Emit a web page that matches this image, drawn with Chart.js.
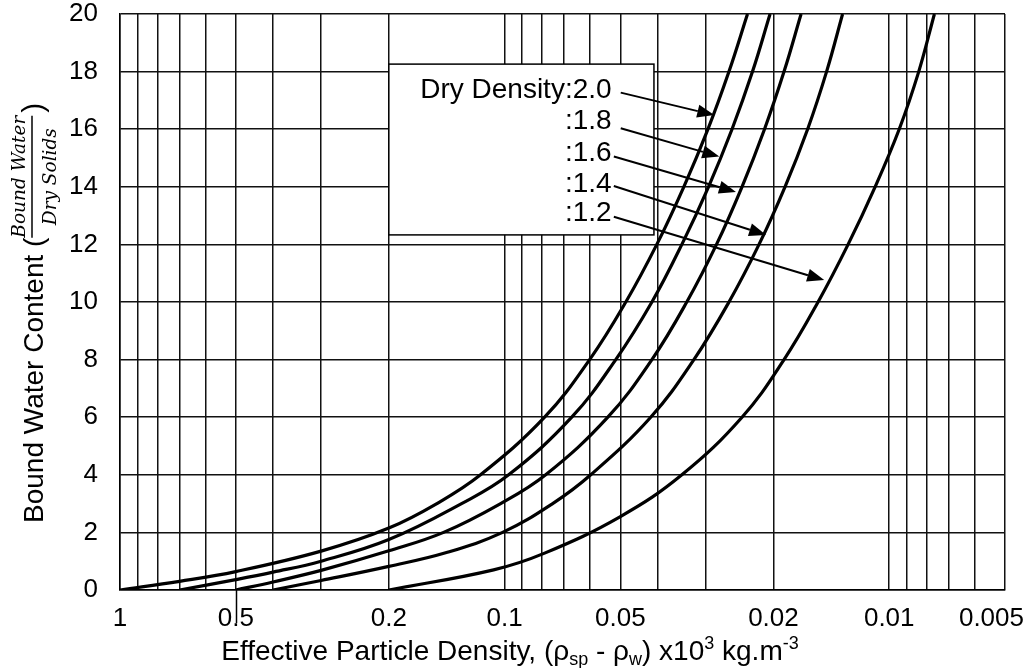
<!DOCTYPE html>
<html>
<head>
<meta charset="utf-8">
<script src="https://cdn.jsdelivr.net/npm/chart.js@4.4.1/dist/chart.umd.min.js"></script>
<style>
  html, body { margin: 0; padding: 0; background: #ffffff; }
</style>
</head>
<body>
<canvas id="chart" width="1032" height="668"></canvas>
<script>
// curves: [effective particle density, bound water content], one per dry density
const dryDensities = ['2.0', '1.8', '1.6', '1.4', '1.2'];
const curve20 = [[1,0],[0.7,0.30],[0.5,0.64],[0.3,1.35],[0.2,2.15],[0.15,3.0],[0.1155,4],[0.0787,6],[0.0601,8],[0.0484,10],[0.0402,12],[0.0342,14],[0.0296,16],[0.0261,18],[0.02336,20]];
const curve18 = [[0.7,0],[0.5,0.36],[0.4,0.62],[0.3,1.0],[0.2,1.75],[0.1294,3],[0.0976,4],[0.0669,6],[0.0514,8],[0.0414,10],[0.0346,12],[0.0295,14],[0.02563,16],[0.02267,18],[0.02041,20]];
const curve16 = [[0.5,0],[0.4,0.28],[0.3,0.68],[0.2,1.36],[0.1441,2],[0.1024,3],[0.0782,4],[0.0539,6],[0.0414,8],[0.0336,10],[0.02812,12],[0.02414,14],[0.0211,16],[0.01877,18],[0.01695,20]];
const curve14 = [[0.4,0],[0.3,0.33],[0.2,0.82],[0.1416,1.3],[0.1012,2],[0.075,3],[0.0597,4],[0.0417,6],[0.0322,8],[0.0261,10],[0.0218,12],[0.01866,14],[0.0163,16],[0.01455,18],[0.01322,20]];
const curve12 = [[0.2,0],[0.1068,0.7],[0.0787,1.28],[0.05,2.55],[0.0346,4],[0.02414,6],[0.01877,8],[0.01531,10],[0.01279,12],[0.01088,14],[0.00942,16],[0.00838,18],[0.00763,20]];
const curves = [curve20, curve18, curve16, curve14, curve12];

// axes
const xGrid = [1,0.9,0.8,0.7,0.6,0.5,0.4,0.3,0.2,0.1,0.09,0.08,0.07,0.06,0.05,0.04,0.03,0.02,0.01,0.009,0.008,0.007,0.006,0.005];
const xTickLabels = ['1','0.5','0.2','0.1','0.05','0.02','0.01','0.005'];
const yMin = 0, yMax = 20, yStep = 2;

// label box and arrows (data coordinates)
const boxCorners = { x1: 0.2, x2: 0.0409, y1: 18.26, y2: 12.33 };
const labelX = 0.0527;
const labelY = [17.36, 16.26, 15.17, 14.1, 13.09];
const arrowFrom = [[0.0499,17.27],[0.0499,16.03],[0.052,15.05],[0.052,14.03],[0.052,12.96]];
const arrowTo = [[0.0285,16.49],[0.02766,15.05],[0.02503,13.82],[0.0209,12.33],[0.01476,10.76]];

const FONT = '"Liberation Sans", Arial, sans-serif';
const INK = '#000000';

function drawRuns(ctx, runs, x, y) {
  for (const r of runs) {
    ctx.font = r.size + 'px ' + (r.family || FONT);
    ctx.fillText(r.text, x, y + (r.dy || 0));
    x += ctx.measureText(r.text).width;
  }
  return x;
}
function runsWidth(ctx, runs) {
  let w = 0;
  for (const r of runs) {
    ctx.font = r.size + 'px ' + (r.family || FONT);
    w += ctx.measureText(r.text).width;
  }
  return w;
}

const decorations = {
  id: 'decorations',
  afterDatasetsDraw(chart) {
    const { ctx, scales: { x, y } } = chart;
    ctx.save();
    // label box
    const bx1 = x.getPixelForValue(boxCorners.x1), bx2 = x.getPixelForValue(boxCorners.x2);
    const by1 = y.getPixelForValue(boxCorners.y1), by2 = y.getPixelForValue(boxCorners.y2);
    ctx.fillStyle = '#ffffff';
    ctx.fillRect(bx1, by1, bx2 - bx1, by2 - by1);
    ctx.strokeStyle = INK;
    ctx.lineWidth = 1.5;
    ctx.strokeRect(bx1, by1, bx2 - bx1, by2 - by1);

    ctx.fillStyle = INK;
    ctx.textAlign = 'right';
    ctx.textBaseline = 'middle';
    ctx.font = '28px ' + FONT;
    dryDensities.forEach((d, i) => {
      const txt = (i === 0 ? 'Dry Density:' : ':') + d;
      ctx.fillText(txt, x.getPixelForValue(labelX), y.getPixelForValue(labelY[i]));
    });

    // arrows
    ctx.lineWidth = 2;
    arrowFrom.forEach((p, i) => {
      const x0 = x.getPixelForValue(p[0]), y0 = y.getPixelForValue(p[1]);
      const x1 = x.getPixelForValue(arrowTo[i][0]), y1 = y.getPixelForValue(arrowTo[i][1]);
      const a = Math.atan2(y1 - y0, x1 - x0);
      const L = 17, W = 6.5;
      const bx = x1 - L * Math.cos(a), by = y1 - L * Math.sin(a);
      ctx.beginPath();
      ctx.moveTo(x0, y0);
      ctx.lineTo(bx, by);
      ctx.stroke();
      ctx.beginPath();
      ctx.moveTo(x1, y1);
      ctx.lineTo(bx + W * Math.sin(a), by - W * Math.cos(a));
      ctx.lineTo(bx - W * Math.sin(a), by + W * Math.cos(a));
      ctx.closePath();
      ctx.fill();
    });
    ctx.restore();
  },
  afterDraw(chart) {
    const { ctx, scales: { x }, chartArea } = chart;
    ctx.save();
    ctx.fillStyle = INK;
    ctx.strokeStyle = INK;

    // stray tick under 0.5
    const p5 = Math.round(x.getPixelForValue(0.5)) + 0.5;
    ctx.lineWidth = 1.5;
    ctx.beginPath();
    ctx.moveTo(p5, chartArea.bottom);
    ctx.lineTo(p5, chartArea.bottom + 33);
    ctx.stroke();

    // x tick labels
    ctx.font = '26px ' + FONT;
    ctx.textBaseline = 'alphabetic';
    ctx.textAlign = 'left';
    xTickLabels.forEach(t => {
      const w = ctx.measureText(t).width;
      let left = x.getPixelForValue(parseFloat(t)) - w / 2;
      left = Math.min(left, chart.width - 8 - w);
      ctx.fillText(t, left, 626);
    });

    // x axis title
    const xRuns = [
      { text: 'Effective Particle Density, (\u03c1', size: 28 },
      { text: 'sp', size: 18, dy: 5 },
      { text: ' - \u03c1', size: 28 },
      { text: 'w', size: 18, dy: 5 },
      { text: ') x10', size: 28 },
      { text: '3', size: 18, dy: -11 },
      { text: ' kg.m', size: 28 },
      { text: '-3', size: 18, dy: -11 }
    ];
    const tw = runsWidth(ctx, xRuns);
    drawRuns(ctx, xRuns, 510 - tw / 2, 660);

    // y axis title, rotated
    ctx.translate(43, 523);
    ctx.rotate(-Math.PI / 2);
    ctx.textAlign = 'left';
    let cx = drawRuns(ctx, [{ text: 'Bound Water Content (', size: 28 }], 0, 0);
    ctx.font = 'italic 18.5px "DejaVu Serif", serif';
    const num = 'Bound Water', den = 'Dry Solids';
    const nw = ctx.measureText(num).width, dw = ctx.measureText(den).width;
    const fw = Math.max(nw, dw);
    ctx.fillText(num, cx + (fw - nw) / 2, -18);
    ctx.fillText(den, cx + (fw - dw) / 2, 13);
    ctx.lineWidth = 1.5;
    ctx.beginPath();
    ctx.moveTo(cx, -11);
    ctx.lineTo(cx + fw, -11);
    ctx.stroke();
    cx += fw + 3;
    ctx.font = '30px ' + FONT;
    ctx.fillText(')', cx, 0);
    ctx.restore();
  }
};

new Chart(document.getElementById('chart'), {
  type: 'line',
  data: {
    datasets: curves.map((c, i) => ({
      label: 'Dry Density ' + dryDensities[i],
      data: c.map(p => ({ x: p[0], y: p[1] })),
      borderColor: INK,
      borderWidth: 3.2,
      pointRadius: 0,
      fill: false,
      tension: 0.4
    }))
  },
  options: {
    responsive: false,
    devicePixelRatio: 1,
    animation: false,
    layout: { padding: { left: 0, right: 27, top: 14, bottom: 0 } },
    plugins: { legend: { display: false }, tooltip: { enabled: false } },
    scales: {
      x: {
        type: 'logarithmic',
        reverse: true,
        min: 0.005,
        max: 1,
        afterBuildTicks: s => { s.ticks = xGrid.map(v => ({ value: v })); },
        afterFit: s => { s.height = 78; s.paddingLeft = 0; s.paddingRight = 0; },
        ticks: { display: false },
        grid: { color: '#111111', lineWidth: 1.5, drawTicks: false },
        border: { color: INK, width: 1.5 }
      },
      y: {
        type: 'linear',
        min: yMin,
        max: yMax,
        ticks: { stepSize: yStep, color: INK, padding: 22, font: { family: FONT, size: 26 } },
        afterFit: s => { s.width = 120; s.paddingTop = 0; s.paddingBottom = 0; },
        grid: { color: '#111111', lineWidth: 1.5, drawTicks: false },
        border: { color: INK, width: 1.5 }
      }
    }
  },
  plugins: [decorations]
});
</script>
</body>
</html>
